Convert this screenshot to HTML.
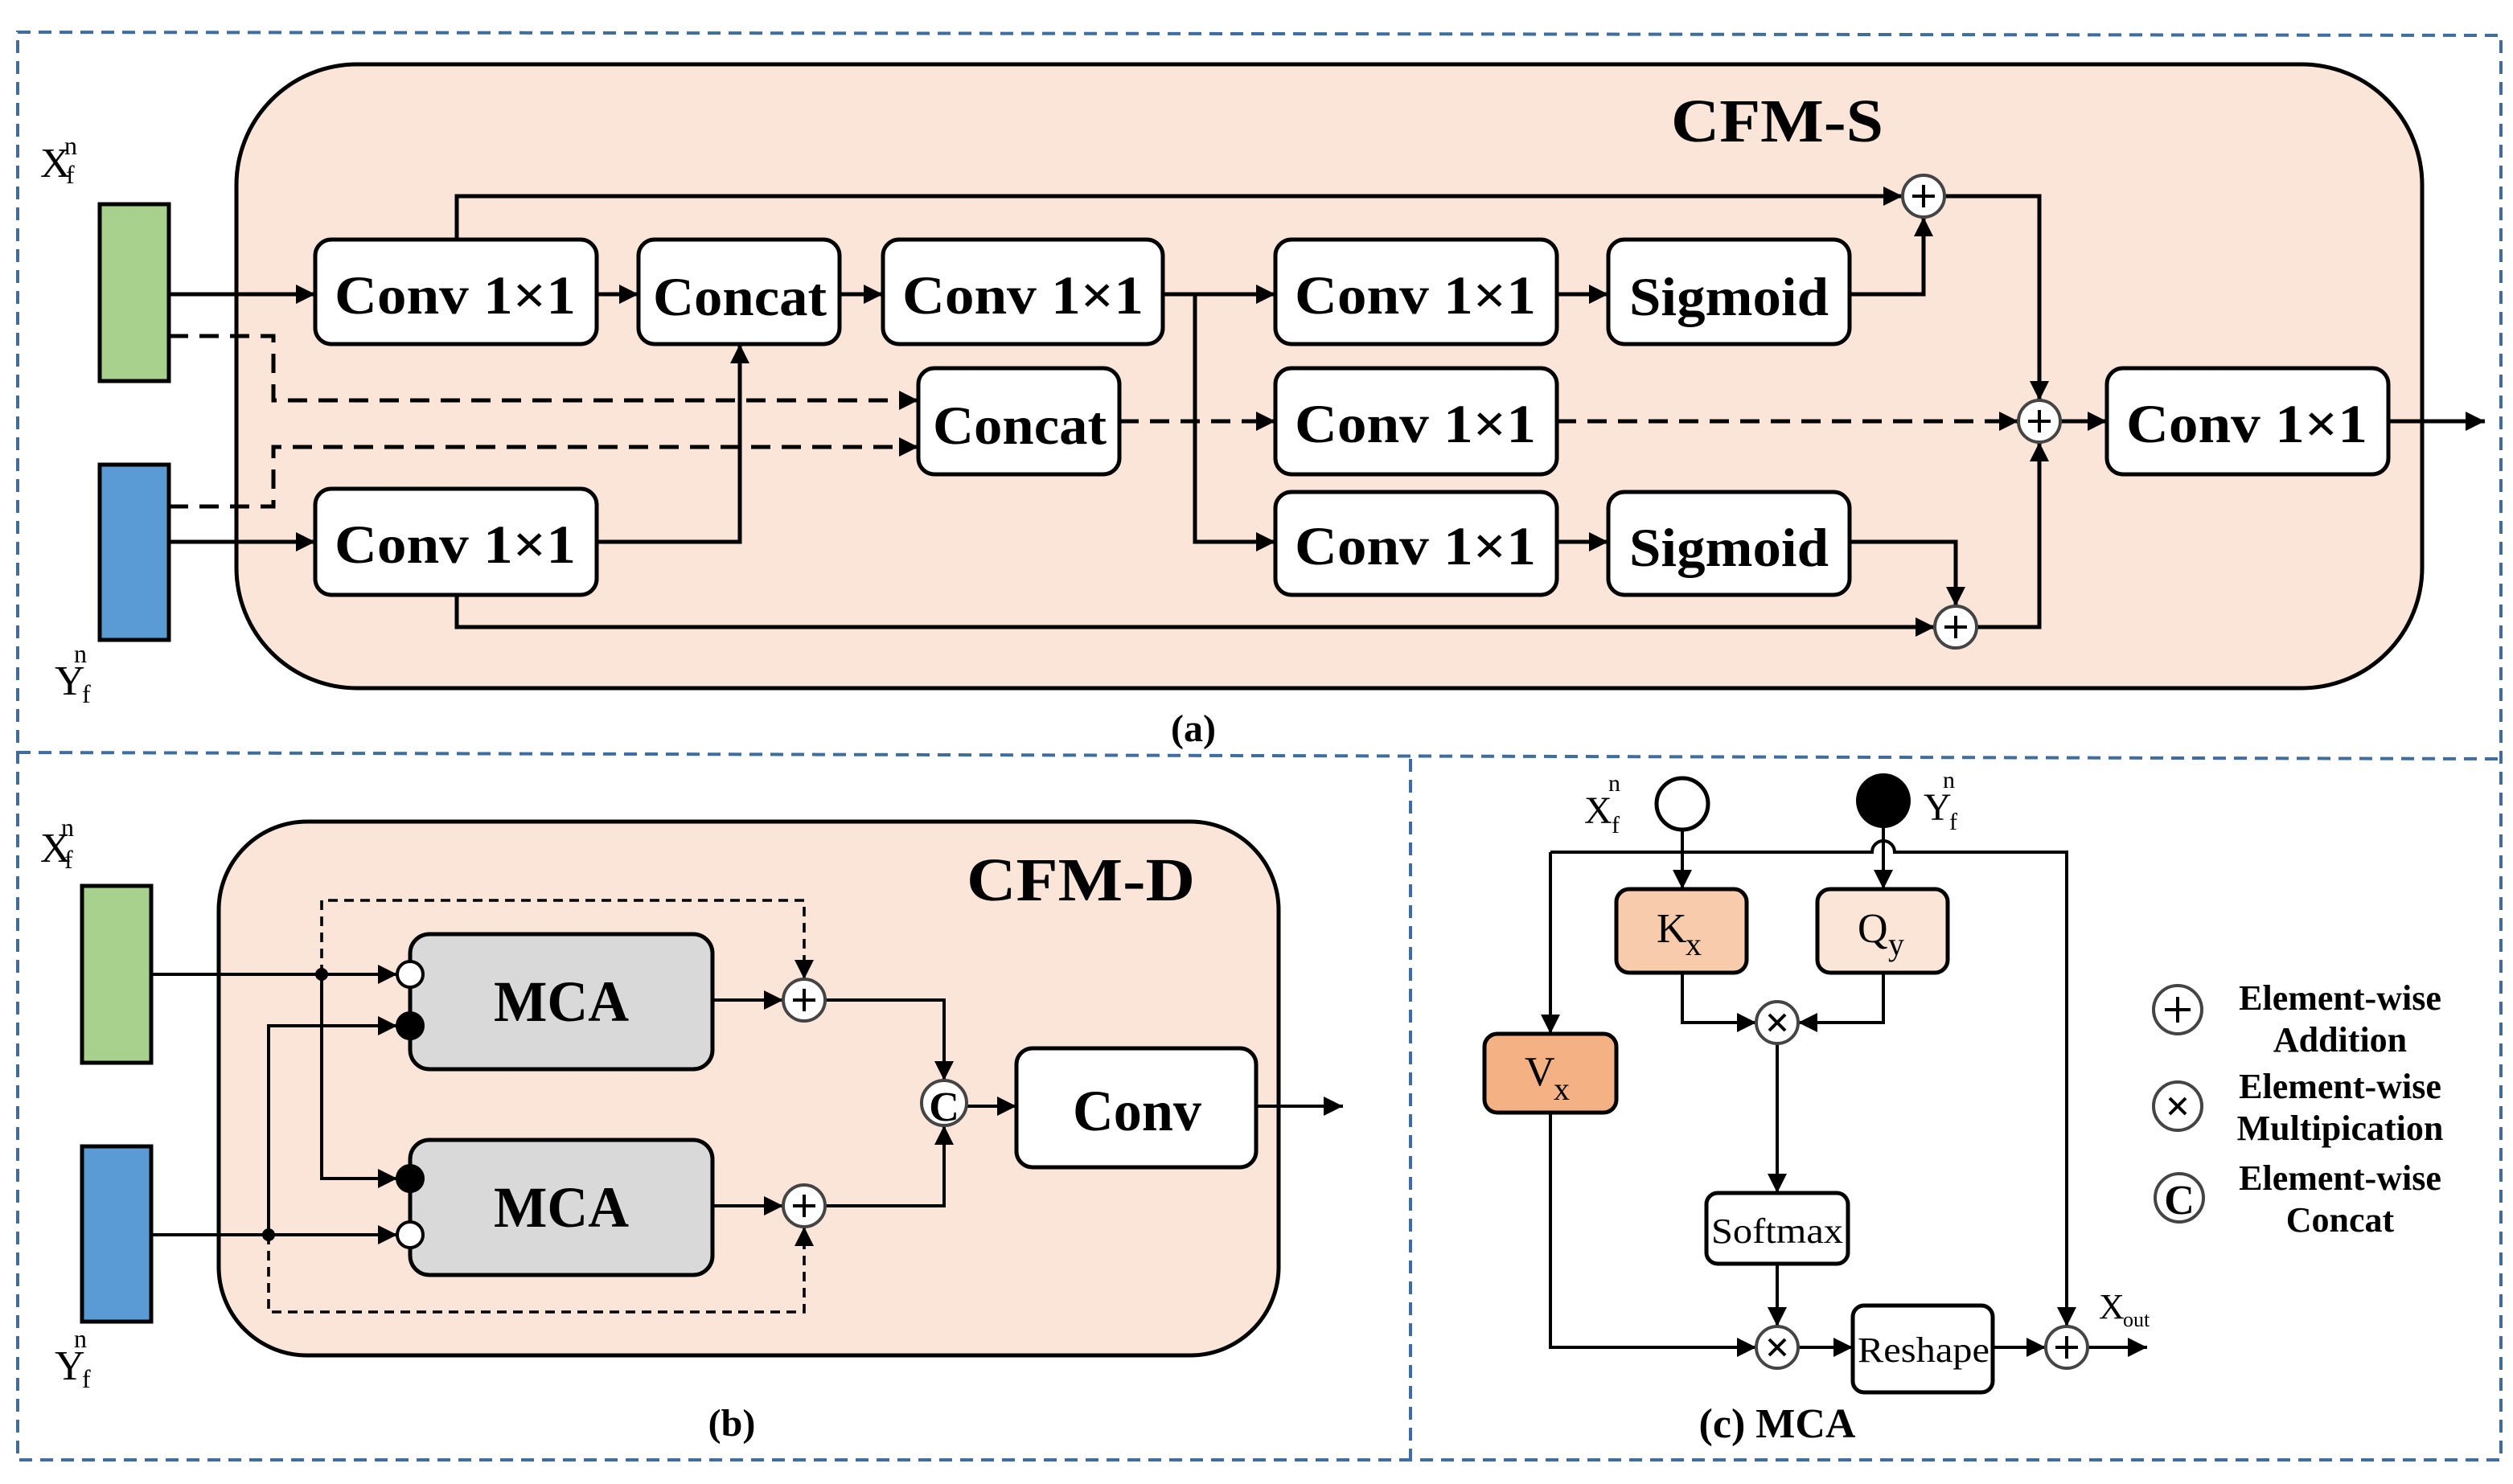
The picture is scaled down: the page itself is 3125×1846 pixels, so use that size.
<!DOCTYPE html>
<html><head><meta charset="utf-8"><style>
html,body{margin:0;padding:0;background:#fff;}
svg{display:block;}
text{font-family:"Liberation Serif",serif;}
.b{font-weight:bold;}
</style></head><body>
<svg width="3125" height="1846" viewBox="0 0 1562.5 923" xmlns="http://www.w3.org/2000/svg">
<defs>
<marker id="a" viewBox="0 0 10 10" refX="10" refY="5" markerWidth="5" markerHeight="5" orient="auto" markerUnits="userSpaceOnUse"><path d="M0,0L10,5L0,10z" fill="#000"/></marker>
<marker id="A" viewBox="0 0 10 10" refX="10" refY="5" markerWidth="12" markerHeight="12" orient="auto" markerUnits="userSpaceOnUse"><path d="M0,0L10,5L0,10z" fill="#000"/></marker>
</defs>
<!-- outer dashed frames -->
<g fill="none" stroke="#3f6d9e" stroke-width="2" stroke-dasharray="8,5">
<path d="M11,20 L1555,22 L1555,908 L11,908 Z"/>
<path d="M11,468 L1555,472"/>
<path d="M877,472 L877,908"/>
</g>

<!-- (a) CFM-S -->
<rect x="147" y="40" width="1359" height="388" rx="75" fill="#fae5d8" stroke="#000" stroke-width="2.5"/>
<text x="1105" y="88" class="b" font-size="38" text-anchor="middle" textLength="132" lengthAdjust="spacingAndGlyphs">CFM-S</text>
<rect x="62" y="127" width="43" height="110" fill="#a9d18e" stroke="#000" stroke-width="2.5"/>
<rect x="62" y="289" width="43" height="109" fill="#5b9bd5" stroke="#000" stroke-width="2.5"/>
<text x="25" y="110" font-size="26">X</text><text x="40" y="96" font-size="16">n</text><text x="41" y="114" font-size="16">f</text>
<text x="34" y="432" font-size="26">Y</text><text x="46" y="412" font-size="16">n</text><text x="51" y="437" font-size="16">f</text>

<g fill="#fff" stroke="#000" stroke-width="2.5">
<rect x="196" y="149" width="175" height="65" rx="10"/>
<rect x="397" y="149" width="125" height="65" rx="10"/>
<rect x="549" y="149" width="174" height="65" rx="10"/>
<rect x="793" y="149" width="175" height="65" rx="10"/>
<rect x="1000" y="149" width="150" height="65" rx="10"/>
<rect x="571" y="229" width="125" height="66" rx="10"/>
<rect x="793" y="229" width="175" height="66" rx="10"/>
<rect x="1310" y="229" width="175" height="66" rx="10"/>
<rect x="196" y="304" width="175" height="66" rx="10"/>
<rect x="793" y="306" width="175" height="64" rx="10"/>
<rect x="1000" y="306" width="150" height="64" rx="10"/>
</g>
<g class="b" font-size="34" text-anchor="middle">
<text x="283" y="195" textLength="150" lengthAdjust="spacingAndGlyphs">Conv 1×1</text>
<text x="460" y="196" textLength="108" lengthAdjust="spacingAndGlyphs">Concat</text>
<text x="636" y="195" textLength="150" lengthAdjust="spacingAndGlyphs">Conv 1×1</text>
<text x="880" y="195" textLength="150" lengthAdjust="spacingAndGlyphs">Conv 1×1</text>
<text x="1075" y="196" textLength="124" lengthAdjust="spacingAndGlyphs">Sigmoid</text>
<text x="634" y="276" textLength="108" lengthAdjust="spacingAndGlyphs">Concat</text>
<text x="880" y="275" textLength="150" lengthAdjust="spacingAndGlyphs">Conv 1×1</text>
<text x="1397" y="275" textLength="150" lengthAdjust="spacingAndGlyphs">Conv 1×1</text>
<text x="283" y="350" textLength="150" lengthAdjust="spacingAndGlyphs">Conv 1×1</text>
<text x="880" y="351" textLength="150" lengthAdjust="spacingAndGlyphs">Conv 1×1</text>
<text x="1075" y="352" textLength="124" lengthAdjust="spacingAndGlyphs">Sigmoid</text>
</g>
<g fill="none" stroke="#000" stroke-width="2.5">
<path d="M105,183 H196" marker-end="url(#A)"/>
<path d="M371,183 H397" marker-end="url(#A)"/>
<path d="M522,183 H549" marker-end="url(#A)"/>
<path d="M723,183 H793" marker-end="url(#A)"/>
<path d="M743,183 V337 H793" marker-end="url(#A)"/>
<path d="M968,183 H1000" marker-end="url(#A)"/>
<path d="M968,337 H1000" marker-end="url(#A)"/>
<path d="M105,337 H196" marker-end="url(#A)"/>
<path d="M371,337 H460 V214" marker-end="url(#A)"/>
<path d="M284,149 V122 H1183" marker-end="url(#A)"/>
<path d="M1150,183 H1196 V135" marker-end="url(#A)"/>
<path d="M1209,122 H1268 V249" marker-end="url(#A)"/>
<path d="M284,370 V390 H1203" marker-end="url(#A)"/>
<path d="M1150,337 H1216 V377" marker-end="url(#A)"/>
<path d="M1229,390 H1268 V275" marker-end="url(#A)"/>
<path d="M1281,262 H1310" marker-end="url(#A)"/>
<path d="M1485,262 H1545" marker-end="url(#A)"/>
</g>
<g fill="none" stroke="#000" stroke-width="2.5" stroke-dasharray="12,7">
<path d="M105,209 H170 V249 H571" marker-end="url(#A)"/>
<path d="M105,315 H170 V278 H571" marker-end="url(#A)"/>
<path d="M696,262 H793" marker-end="url(#A)"/>
<path d="M968,262 H1255" marker-end="url(#A)"/>
</g>
<g fill="#fff" stroke="#444" stroke-width="2">
<circle cx="1196" cy="122" r="13"/><circle cx="1268" cy="262" r="13"/><circle cx="1216" cy="390" r="13"/>
</g>
<g stroke="#000" stroke-width="2">
<path d="M1189,122h14M1196,115v14M1261,262h14M1268,255v14M1209,390h14M1216,383v14"/>
</g>
<text x="742" y="461" class="b" font-size="24" text-anchor="middle">(a)</text>

<!-- (b) CFM-D -->
<rect x="136" y="511" width="659" height="332" rx="55" fill="#fae5d8" stroke="#000" stroke-width="2.5"/>
<text x="672" y="560" class="b" font-size="38" text-anchor="middle" textLength="142" lengthAdjust="spacingAndGlyphs">CFM-D</text>
<rect x="51" y="551" width="43" height="110" fill="#a9d18e" stroke="#000" stroke-width="2.5"/>
<rect x="51" y="713" width="43" height="109" fill="#5b9bd5" stroke="#000" stroke-width="2.5"/>
<text x="25" y="536" font-size="26">X</text><text x="38" y="520" font-size="16">n</text><text x="40" y="540" font-size="16">f</text>
<text x="34" y="858" font-size="26">Y</text><text x="46" y="838" font-size="16">n</text><text x="51" y="863" font-size="16">f</text>
<g fill="#d9d9d9" stroke="#000" stroke-width="2.5">
<rect x="255" y="581" width="188" height="84" rx="12"/>
<rect x="255" y="709" width="188" height="84" rx="12"/>
</g>
<g class="b" font-size="36" text-anchor="middle">
<text x="349" y="635" textLength="84" lengthAdjust="spacingAndGlyphs">MCA</text>
<text x="349" y="763" textLength="84" lengthAdjust="spacingAndGlyphs">MCA</text>
</g>
<rect x="632" y="652" width="149" height="74" rx="10" fill="#fff" stroke="#000" stroke-width="2.5"/>
<text x="707" y="703" class="b" font-size="36" text-anchor="middle" textLength="80" lengthAdjust="spacingAndGlyphs">Conv</text>
<g fill="none" stroke="#000" stroke-width="2">
<path d="M94,606 H247" marker-end="url(#A)"/>
<path d="M94,768 H247" marker-end="url(#A)"/>
<path d="M200,606 V733 H247" marker-end="url(#A)"/>
<path d="M167,768 V638 H247" marker-end="url(#A)"/>
<path d="M443,622 H487" marker-end="url(#A)"/>
<path d="M443,750 H487" marker-end="url(#A)"/>
<path d="M513,622 H587 V672" marker-end="url(#A)"/>
<path d="M513,750 H587 V700" marker-end="url(#A)"/>
<path d="M601,688 H632" marker-end="url(#A)"/>
<path d="M781,688 H835" marker-end="url(#A)"/>
</g>
<g fill="none" stroke="#000" stroke-width="1.8" stroke-dasharray="6,4">
<path d="M200,606 V560 H500 V609" marker-end="url(#A)"/>
<path d="M167,768 V816 H500 V763" marker-end="url(#A)"/>
</g>
<circle cx="200" cy="606" r="4" fill="#000"/><circle cx="167" cy="768" r="4" fill="#000"/>
<g stroke="#000" stroke-width="2">
<circle cx="255" cy="606" r="8" fill="#fff"/><circle cx="255" cy="638" r="8" fill="#000"/>
<circle cx="255" cy="733" r="8" fill="#000"/><circle cx="255" cy="768" r="8" fill="#fff"/>
</g>
<g fill="#fff" stroke="#444" stroke-width="2">
<circle cx="500" cy="622" r="13"/><circle cx="500" cy="750" r="13"/><circle cx="587" cy="686" r="14"/>
</g>
<g stroke="#000" stroke-width="2"><path d="M493,622h14M500,615v14M493,750h14M500,743v14"/></g>
<text x="587" y="697" class="b" font-size="26" text-anchor="middle">C</text>
<text x="455" y="893" class="b" font-size="24" text-anchor="middle">(b)</text>

<!-- (c) MCA -->
<g fill="none" stroke="#000" stroke-width="2">
<path d="M964,530 H1164 A7,7 0 0 1 1178,530 H1285 V825" marker-end="url(#A)"/>
<path d="M964,530 V643" marker-end="url(#A)"/>
<path d="M1046,516 V553" marker-end="url(#A)"/>
<path d="M1171,514 V553" marker-end="url(#A)"/>
<path d="M1046,605 V636 H1092" marker-end="url(#A)"/>
<path d="M1171,605 V636 H1118" marker-end="url(#A)"/>
<path d="M1105,649 V742" marker-end="url(#A)"/>
<path d="M1105,786 V825" marker-end="url(#A)"/>
<path d="M964,692 V838 H1092" marker-end="url(#A)"/>
<path d="M1118,838 H1152" marker-end="url(#A)"/>
<path d="M1239,838 H1272" marker-end="url(#A)"/>
<path d="M1298,838 H1335" marker-end="url(#A)"/>
</g>
<circle cx="1046" cy="500" r="16" fill="#fff" stroke="#000" stroke-width="2.5"/>
<circle cx="1171" cy="498" r="17" fill="#000"/>
<text x="985" y="512" font-size="24">X</text><text x="1000" y="492" font-size="15">n</text><text x="1002" y="518" font-size="15">f</text>
<text x="1196" y="510" font-size="24">Y</text><text x="1208" y="490" font-size="15">n</text><text x="1212" y="516" font-size="15">f</text>
<g stroke="#000" stroke-width="2.5">
<rect x="1005" y="553" width="81" height="52" rx="8" fill="#f8cbad"/>
<rect x="1130" y="553" width="81" height="52" rx="8" fill="#fbe5d6"/>
<rect x="923" y="643" width="82" height="49" rx="8" fill="#f4b183"/>
<rect x="1061" y="742" width="88" height="44" rx="7" fill="#fff"/>
<rect x="1152" y="812" width="87" height="54" rx="7" fill="#fff"/>
</g>
<text x="1030" y="586" font-size="26">K</text><text x="1048" y="594" font-size="20">x</text>
<text x="1155" y="586" font-size="26">Q</text><text x="1174" y="594" font-size="20">y</text>
<text x="948" y="675" font-size="26">V</text><text x="966" y="684" font-size="20">x</text>
<text x="1105" y="773" font-size="22" text-anchor="middle" textLength="82" lengthAdjust="spacingAndGlyphs">Softmax</text>
<text x="1196" y="847" font-size="22" text-anchor="middle" textLength="82" lengthAdjust="spacingAndGlyphs">Reshape</text>
<text x="1305" y="820" font-size="22">X</text><text x="1320" y="825" font-size="13">out</text>
<g fill="#fff" stroke="#444" stroke-width="2">
<circle cx="1105" cy="636" r="13"/><circle cx="1105" cy="838" r="13"/><circle cx="1285" cy="838" r="13"/>
<circle cx="1354" cy="628" r="15"/><circle cx="1354" cy="688" r="15"/><circle cx="1355" cy="745" r="15"/>
</g>
<g stroke="#000" stroke-width="2">
<path d="M1100,631l10,10M1110,631l-10,10M1100,833l10,10M1110,833l-10,10M1278,838h14M1285,831v14"/>
<path d="M1346,628h16M1354,620v16M1349,683l10,10M1359,683l-10,10"/>
</g>
<text x="1355" y="755" class="b" font-size="26" text-anchor="middle">C</text>
<g class="b" font-size="22" text-anchor="middle">
<text x="1455" y="628">Element-wise</text><text x="1455" y="654">Addition</text>
<text x="1455" y="683">Element-wise</text><text x="1455" y="709">Multipication</text>
<text x="1455" y="740">Element-wise</text><text x="1455" y="766">Concat</text>
</g>
<text x="1105" y="894" class="b" font-size="26" text-anchor="middle">(c) MCA</text>
</svg>
</body></html>
